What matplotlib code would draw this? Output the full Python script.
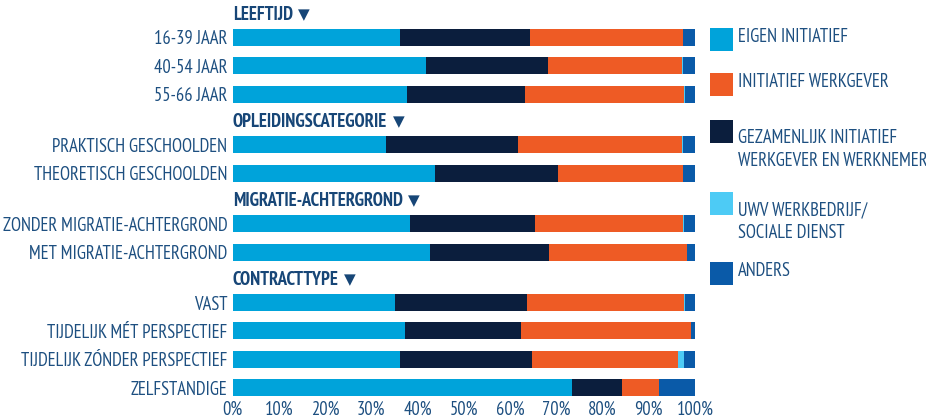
import numpy as np
import matplotlib
matplotlib.use("Agg")
import matplotlib.pyplot as plt
from matplotlib import font_manager as fm
from matplotlib.textpath import TextPath
from matplotlib.font_manager import FontProperties

# Groups and their rows
groups = ["LEEFTIJD", "OPLEIDINGSCATEGORIE", "MIGRATIE-ACHTERGROND", "CONTRACTTYPE"]
rows = [
    ["16-39 JAAR", "40-54 JAAR", "55-66 JAAR"],
    ["PRAKTISCH GESCHOOLDEN", "THEORETISCH GESCHOOLDEN"],
    ["ZONDER MIGRATIE-ACHTERGROND", "MET MIGRATIE-ACHTERGROND"],
    ["VAST", "TIJDELIJK MÉT PERSPECTIEF", "TIJDELIJK ZÓNDER PERSPECTIEF", "ZELFSTANDIGE"],
]

# Shares (%) per row, in stacking order
eigen       = [36.2, 41.8, 37.7, 33.2, 43.8, 38.4, 42.7, 35.1, 37.3, 36.1, 73.4]
gezamenlijk = [28.1, 26.3, 25.5, 28.5, 26.6, 27.0, 25.7, 28.6, 25.1, 28.7, 10.9]
werkgever   = [33.1, 29.0, 34.4, 35.5, 26.9, 31.9, 29.9, 33.9, 36.7, 31.5, 7.9]
uwv         = [0.0, 0.3, 0.3, 0.1, 0.2, 0.3, 0.0, 0.2, 0.0, 1.3, 0.0]
anders      = [2.6, 2.6, 2.1, 2.7, 2.5, 2.4, 1.7, 2.2, 0.9, 2.4, 7.8]

series = [
    ("EIGEN INITIATIEF", eigen, "#00a3da"),
    ("GEZAMENLIJK INITIATIEF\nWERKGEVER EN WERKNEMER", gezamenlijk, "#0b1e3d"),
    ("INITIATIEF WERKGEVER", werkgever, "#ee5b25"),
    ("UWV WERKBEDRIJF/\nSOCIALE DIENST", uwv, "#4dcbf5"),
    ("ANDERS", anders, "#0a5aa8"),
]
legend_order = [0, 2, 1, 3, 4]

xticks = np.arange(0, 101, 10)
xticklabels = [f"{v}%" for v in xticks]

LABEL_COLOR = "#1d4f80"
HEAD_COLOR = "#174677"

# Pick a condensed sans whose proportions give ~13 px capitals and a
# 219 px wide longest label
installed = {f.name for f in fm.fontManager.ttflist}
candidates = ["PT Sans Narrow", "Fira Sans Condensed", "Fira Sans Extra Condensed",
              "Sofia Sans Condensed", "Asap Condensed", "Open Sans Condensed",
              "Archivo Narrow", "Roboto Condensed"]
CAP_PX, LONG_PX = 13.0, 219.0
best = None
for fam in candidates:
    if fam not in installed:
        continue
    prop = FontProperties(family=fam)
    cap = TextPath((0, 0), "H", size=100, prop=prop).get_extents().height
    size_px = CAP_PX * 100 / cap
    w = TextPath((0, 0), "ZONDER MIGRATIE-ACHTERGROND", size=size_px, prop=prop).get_extents().width
    err = abs(w - LONG_PX)
    if best is None or err < best[0]:
        best = (err, fam, size_px)
_, FAM, SIZE_PX = best
FS = SIZE_PX * 72 / 100
FONT = [FAM, "DejaVu Sans"]

fig = plt.figure(figsize=(9.26, 4.19), dpi=100)
ax = fig.add_axes([232.7 / 926, 1 - 398 / 419, (695 - 232.7) / 926, (398 - 5) / 419])

# Vertical slots: rows at unit spacing, extra gap before each group
gap = 0.79
ypos, labels, heads = [], [], []
idx = 0
for g, (name, rlist) in enumerate(zip(groups, rows)):
    start = idx + g * gap
    heads.append((name, start - 0.8))
    for i, r in enumerate(rlist):
        ypos.append(start + i)
        labels.append(r)
    idx += len(rlist)
ypos = np.array(ypos)

left = np.zeros(len(ypos))
for name, vals, col in series:
    v = np.array(vals)
    ax.barh(ypos, v, left=left, height=0.6, color=col, linewidth=0)
    left += v

ax.set_xlim(0, 100)
ax.set_ylim((398 - 37.5) / 28.3, (5 - 37.5) / 28.3)
for s in ax.spines.values():
    s.set_visible(False)
ax.set_yticks(ypos)
ax.set_yticklabels(labels, fontsize=FS, color=LABEL_COLOR, family=FONT)
ax.set_xticks(xticks)
ax.set_xticklabels(xticklabels, fontsize=FS, color=LABEL_COLOR, family=FONT)
ax.tick_params(axis="both", length=0)
ax.tick_params(axis="y", pad=4)
ax.tick_params(axis="x", pad=2)

for name, y in heads:
    t = ax.text(0, y, name, fontsize=FS, fontweight="bold", color=HEAD_COLOR,
                family=FONT, va="center", ha="left", clip_on=False)
    ax.annotate("▼", xycoords=t, xy=(1, 0.5), xytext=(4, 0), textcoords="offset points",
                va="center", ha="left", fontsize=11, color=HEAD_COLOR, family=["DejaVu Sans"])

# Legend drawn as squares with text beside them
leg_y = [39.3, 84.3, 131.5, 203.7, 273.7]
for k, yc in zip(legend_order, leg_y):
    name, _, col = series[k]
    fig.patches.append(plt.Rectangle((710 / 926, 1 - (yc + 11.5) / 419), 23 / 926, 23 / 419,
                                     transform=fig.transFigure, color=col, linewidth=0))
    nl = name.count("\n")
    fig.text(738 / 926, 1 - (yc - 2.5) / 419, name, fontsize=FS, color=LABEL_COLOR,
             family=FONT, va="top" if nl else "center", ha="left", linespacing=1.35)

fig.savefig("out.png", dpi=100)
